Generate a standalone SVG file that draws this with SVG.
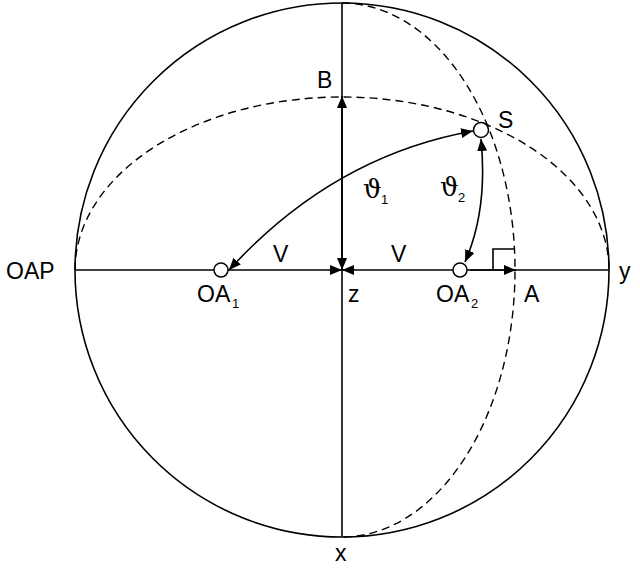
<svg xmlns="http://www.w3.org/2000/svg" width="640" height="568" viewBox="0 0 640 568">
<style>
.l{fill:none;stroke:#000;stroke-width:1.6}
.d{fill:none;stroke:#000;stroke-width:1.4;stroke-dasharray:8,5}
.p{fill:#fff;stroke:#000;stroke-width:1.5}
text{font-family:"Liberation Sans",Arial,sans-serif;font-size:23px;fill:#000}
.s{font-size:13px}
.t{font-family:"DejaVu Serif",serif;font-size:26px}
</style>
<defs>
<marker id="a" viewBox="0 0 12 10" refX="12" refY="5" markerWidth="12" markerHeight="10" markerUnits="userSpaceOnUse" orient="auto"><path d="M0,0 L12,5 L0,10 Z"/></marker>
<marker id="as" viewBox="0 0 12 10" refX="12" refY="5" markerWidth="12" markerHeight="10" markerUnits="userSpaceOnUse" orient="auto-start-reverse"><path d="M0,0 L12,5 L0,10 Z"/></marker>
</defs>
<rect width="640" height="568" fill="#fff"/>
<g id="frame">
<circle class="l" cx="342" cy="270" r="267"/>
<path class="d" d="M75,270 A267,173 0 0 1 609,270"/>
<path class="d" d="M342,3 A173,267 0 0 1 342,537"/>
<path class="l" d="M493,270 V249 H515"/>
</g>
<g id="connectors">
<line class="l" x1="75" y1="270" x2="342" y2="270" marker-end="url(#a)"/>
<line class="l" x1="609" y1="270" x2="342" y2="270" marker-end="url(#a)"/>
<line class="l" x1="342" y1="3" x2="342" y2="270" marker-end="url(#a)"/>
<line class="l" x1="342" y1="537" x2="342" y2="96" marker-end="url(#a)"/>
<line class="l" x1="470" y1="270" x2="516" y2="270" marker-end="url(#a)"/>
<path class="l" d="M229,270 Q333,156 473,131" marker-start="url(#as)" marker-end="url(#a)"/>
<path class="l" d="M481,139 Q488,210 465,262" marker-start="url(#as)" marker-end="url(#a)"/>
</g>
<g id="S"><circle class="p" cx="481" cy="130" r="7.5"/><text x="498" y="128">S</text></g>
<g id="OA1"><circle class="p" cx="221" cy="270" r="7"/><text x="197" y="302">OA</text><text class="s" x="232" y="308">1</text></g>
<g id="OA2"><circle class="p" cx="460" cy="270" r="7"/><text x="436" y="302">OA</text><text class="s" x="471" y="308">2</text></g>
<g id="labels">
<text x="317" y="88">B</text>
<text class="t" x="363" y="198">ϑ</text><text class="s" x="381" y="204">1</text>
<text class="t" x="440" y="196">ϑ</text><text class="s" x="458" y="202">2</text>
<text x="273" y="262">V</text>
<text x="391" y="262">V</text>
<text x="6" y="279">OAP</text>
<text x="619" y="279">y</text>
<text x="348" y="302">z</text>
<text x="524" y="302">A</text>
<text x="335" y="561">x</text>
</g>
</svg>
